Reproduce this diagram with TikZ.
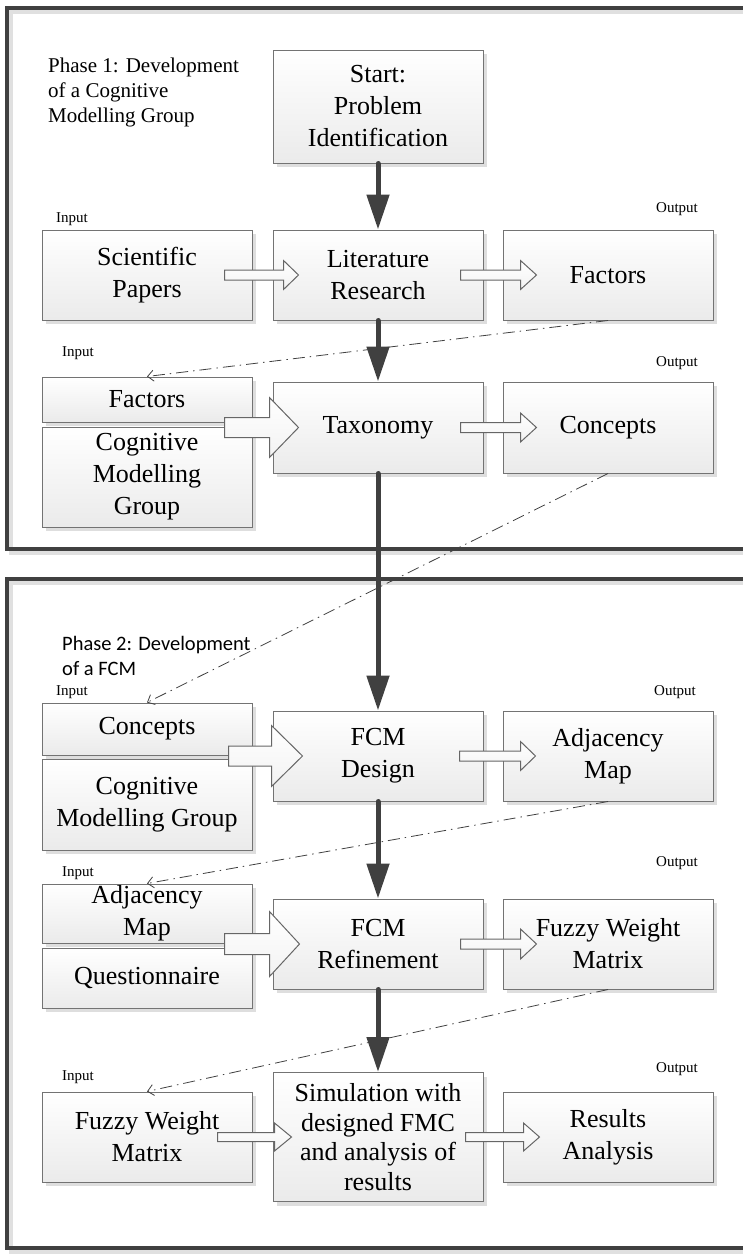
\documentclass[tikz,border=0pt]{standalone}
\usepackage{fontspec}
\setmainfont{Liberation Serif}
\newfontfamily\phasefont{Carlito}
\usepackage{tikz}
\usetikzlibrary{arrows.meta,calc,shadows}
\definecolor{framegray}{RGB}{64,64,64}

\begin{document}
\begin{tikzpicture}[x=1pt, y=-1pt,
    box/.style={draw=black!55, line width=1pt, top color=white, bottom color=black!8,
      minimum width=210pt, inner sep=0pt, align=center, font=\fontsize{26}{32}\selectfont,
      drop shadow={shadow xshift=4pt, shadow yshift=-4pt, fill=black!13, opacity=1}},
    flow/.style={draw=framegray, line width=5pt, line cap=round,
      -{Triangle[width=22pt, length=35pt]}},
    hollow/.style={draw=black!60, line width=1pt, top color=white, bottom color=black!5},
    dashdot/.style={draw=framegray, line width=0.8pt, dash pattern=on 12pt off 5pt on 1.5pt off 5pt,
      -{Straight Barb[length=6pt, width=11pt]}},
    io/.style={font=\fontsize{15}{18}\selectfont, inner sep=0pt},
    phase/.style={align=left, anchor=west, inner sep=0pt}]
  \useasboundingbox (0,0) rectangle (742,1258);

  \draw[black!12, line width=4pt] (11,11.5) rectangle (766,552.5);
  \draw[framegray, line width=4pt] (7,7.5) rectangle (762,548.5);
  \draw[black!12, line width=4pt] (11,583) rectangle (766,1252);
  \draw[framegray, line width=4pt] (7,579) rectangle (762,1248);

  \node[phase, font=\fontsize{21}{25}\selectfont] (ph1) at (48,92)
    {Phase 1: Development\\of a Cognitive\\Modelling Group};
  \node[phase, font=\phasefont\fontsize{20.5}{25}\selectfont] (ph2) at (62,656)
    {Phase 2: Development\\of a FCM};

  \node[box, minimum height=113pt] (start) at (378,106.5) {Start:\\Problem\\Identification};

  \node[box, minimum height=90pt] (sci) at (147,275) {Scientific\\Papers};
  \node[box, minimum height=90pt] (lit) at (378,275) {Literature\\Research};
  \node[box, minimum height=90pt] (fac1) at (608,275) {Factors};

  \node[box, minimum height=45pt] (fac2) at (147,399.5) {Factors};
  \node[box, minimum height=100pt] (cmg1) at (147,477) {Cognitive\\Modelling\\Group};
  \node[box, minimum height=91pt] (tax) at (378,427.5) {Taxonomy};
  \node[box, minimum height=91pt] (con1) at (608,427.5) {Concepts};

  \node[box, minimum height=52pt] (con2) at (147,729) {Concepts};
  \node[box, minimum height=91pt] (cmg2) at (147,804.5) {Cognitive\\Modelling Group};
  \node[box, minimum height=90pt] (design) at (378,756) {FCM\\Design};
  \node[box, minimum height=90pt] (adj1) at (608,756) {Adjacency\\Map};

  \node[box, minimum height=59pt] (adj2) at (147,913.5) {Adjacency\\Map};
  \node[box, minimum height=60pt] (quest) at (147,978) {Questionnaire};
  \node[box, minimum height=90pt] (refine) at (378,944) {FCM\\Refinement};
  \node[box, minimum height=90pt] (fwm1) at (608,944) {Fuzzy Weight\\Matrix};

  \node[box, minimum height=90pt] (fwm2) at (147,1137) {Fuzzy Weight\\Matrix};
  \node[box, minimum height=129pt, font=\fontsize{26}{29.5}\selectfont] (sim) at (378,1137)
    {Simulation with\\designed FMC\\and analysis of\\results};
  \node[box, minimum height=90pt] (res) at (608,1137) {Results\\Analysis};

  \node[io] (in1) at (72,219) {Input};
  \node[io] (out1) at (677,209) {Output};
  \node[io] (in2) at (78,353) {Input};
  \node[io] (out2) at (677,363) {Output};
  \node[io] (in3) at (72,692) {Input};
  \node[io] (out3) at (675,692) {Output};
  \node[io] (in4) at (78,873) {Input};
  \node[io] (out4) at (677,863) {Output};
  \node[io] (in5) at (78,1077) {Input};
  \node[io] (out5) at (677,1069) {Output};

  \foreach \a/\b in {start/lit, lit/tax, tax/design, design/refine, refine/sim}
    \draw[flow] (\a) -- (\b);

  \foreach \tgt/\xs/\xe/\sw/\hw/\hl in {lit/-48/26/5/14.5/15, fac1/-42/34/5/14.5/16,
      tax/-48/26/10/30/29, con1/-42/34/5/14.5/16, design/-44/30/10/30.5/31,
      adj1/-43/33/5/14.5/15, refine/-48/27/10.5/32.5/30, fwm1/-42/34/5/15/16,
      sim/-55/19/4.5/14/17, res/-37/37/4.5/14/16}
    \draw[hollow] ($(\tgt.west)+(\xs,\sw)$) -- ++({\xe-(\xs)-\hl},0) -- ++(0,{\hw-\sw})
      -- ++(\hl,-\hw) -- ++(-\hl,-\hw) -- ++(0,{\hw-\sw}) -- ++({\xs+\hl-\xe},0) -- cycle;

  \foreach \a/\b in {fac1/fac2, con1/con2, adj1/adj2, fwm1/fwm2}
    \draw[dashdot] (\a.south) -- (\b.north);
\end{tikzpicture}
\end{document}
